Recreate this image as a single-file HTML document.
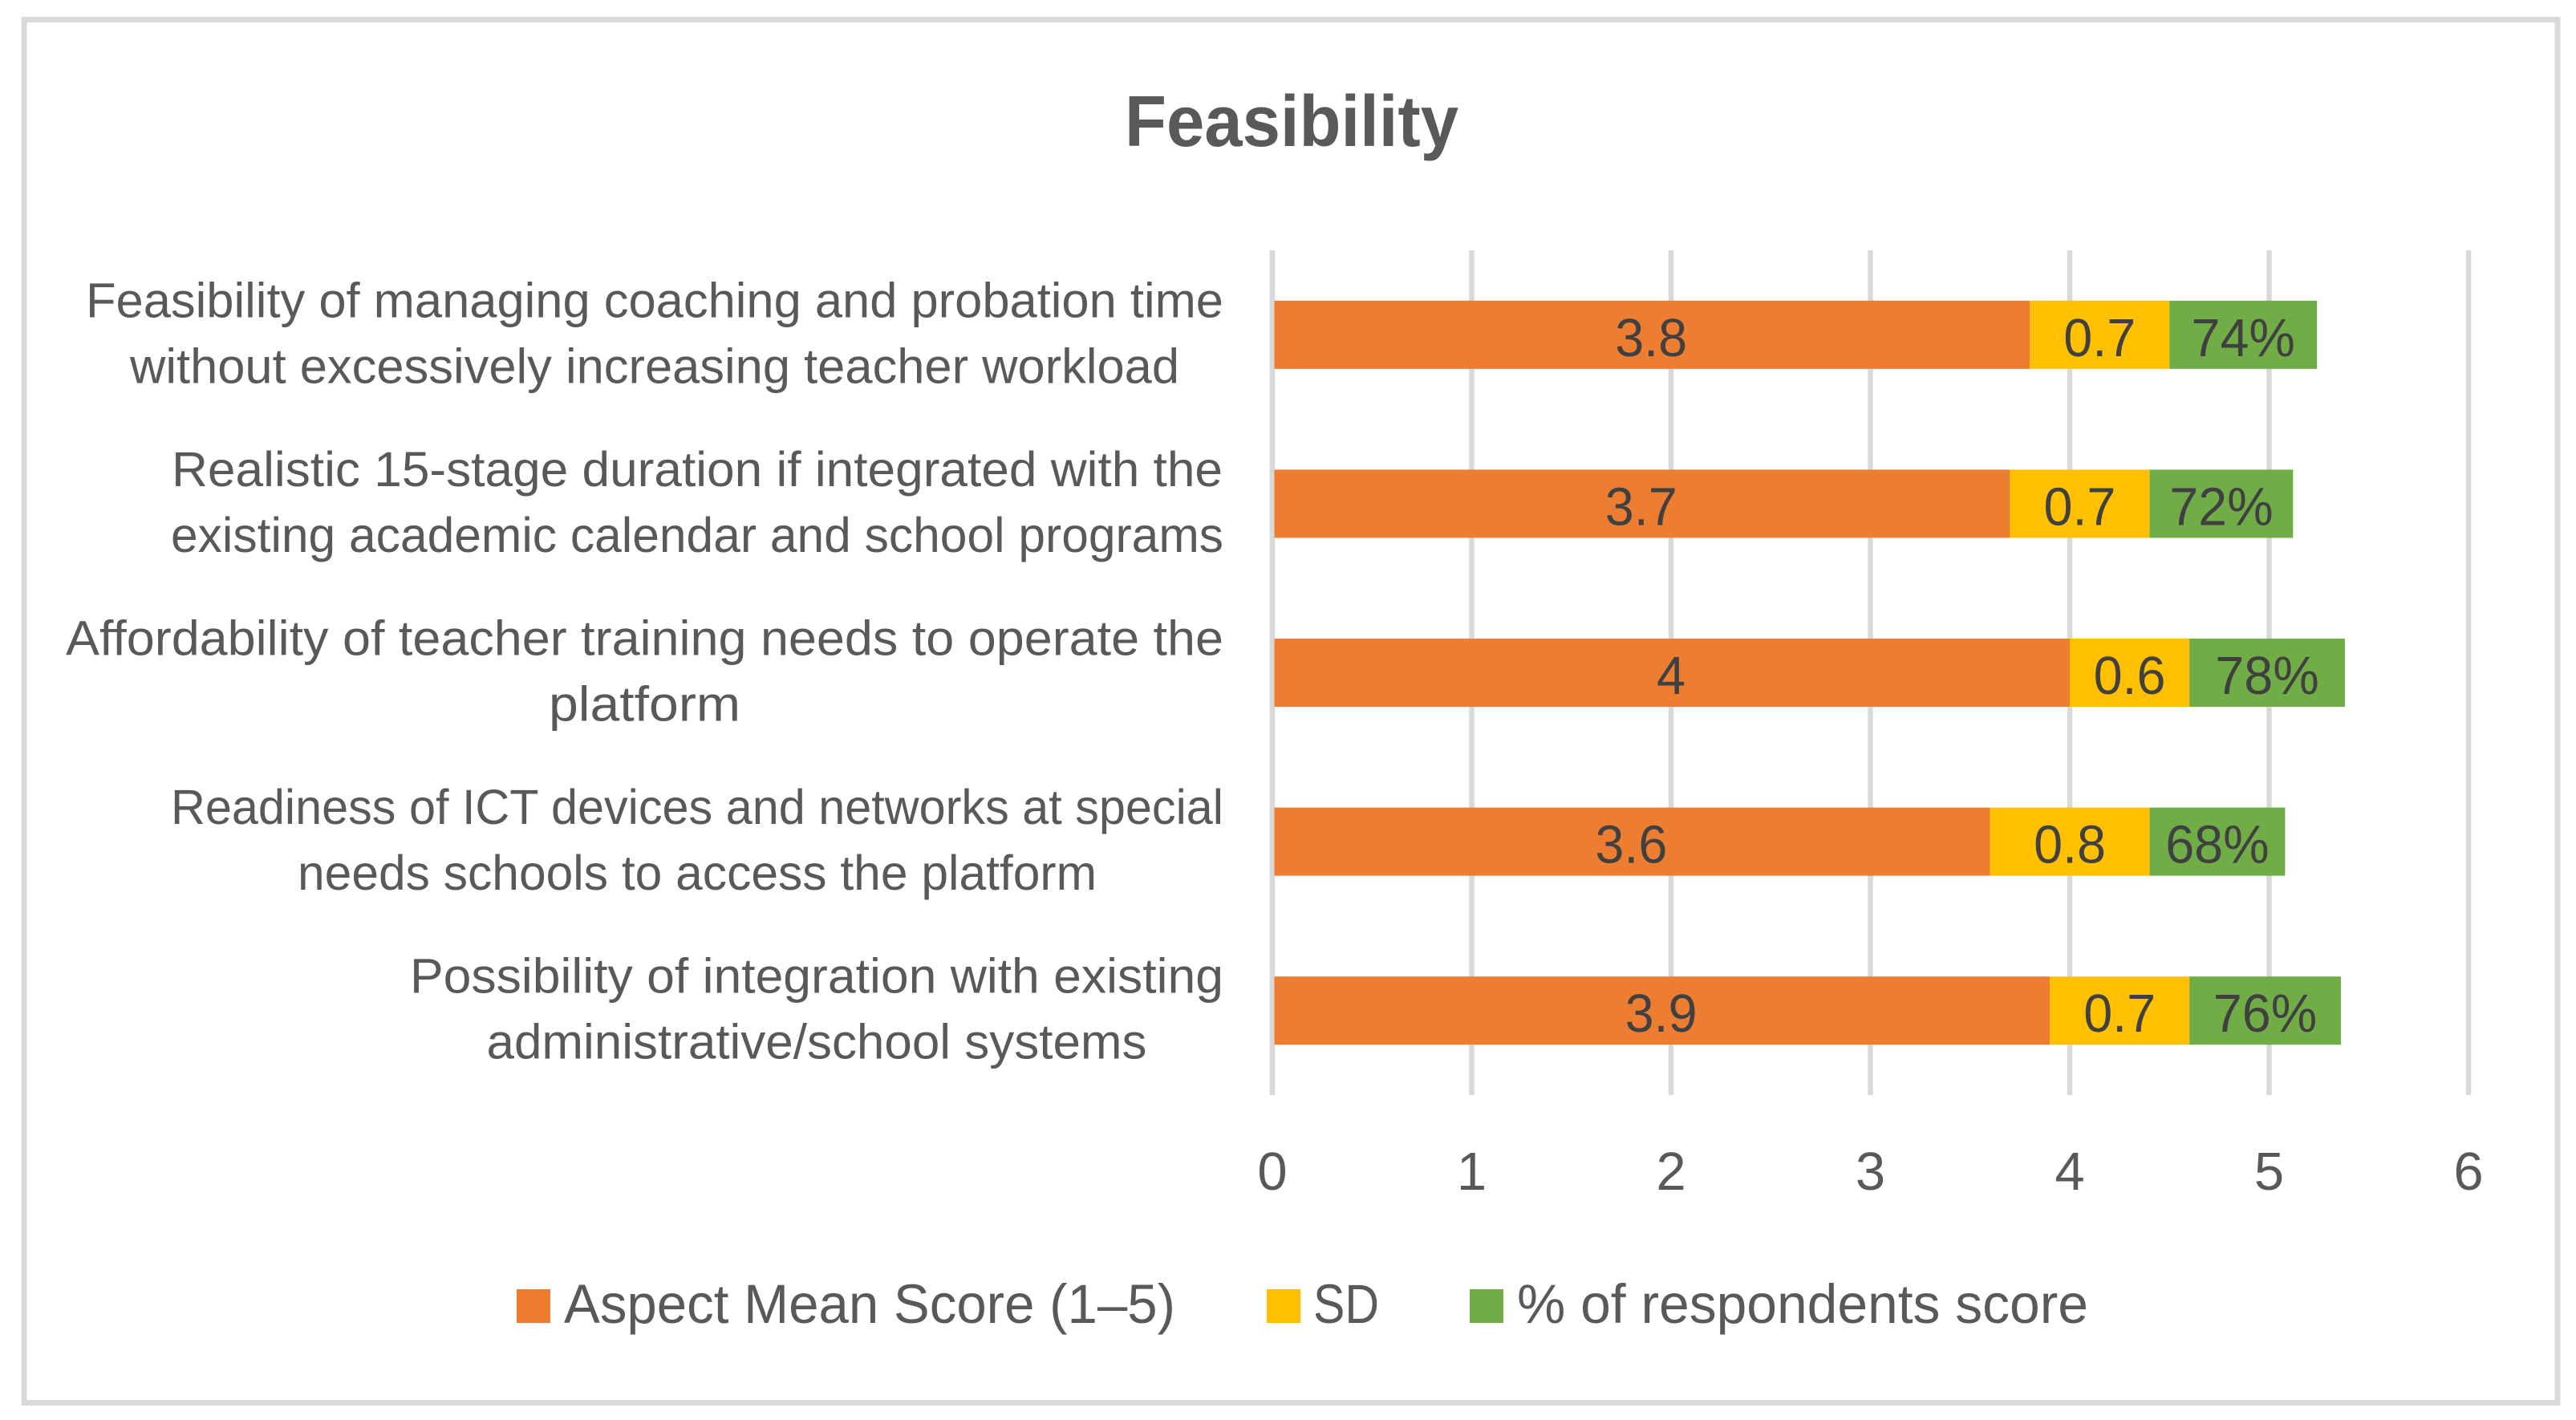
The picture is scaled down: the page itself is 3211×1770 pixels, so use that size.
<!DOCTYPE html>
<html lang="en">
<head>
<meta charset="utf-8">
<title>Feasibility</title>
<style>
  html, body { margin: 0; padding: 0; background: #ffffff; }
  svg { display: block; font-family: "Liberation Sans", sans-serif; }
</style>
</head>
<body>
<svg id="chart" xmlns="http://www.w3.org/2000/svg" width="3211" height="1770" viewBox="0 0 3211 1770">
  <rect x="30" y="24.5" width="3158" height="1724" fill="#ffffff" stroke="#d9d9d9" stroke-width="7"/>
  <text x="1402" y="182" font-size="90" font-weight="700" fill="#595959" textLength="416" lengthAdjust="spacingAndGlyphs">Feasibility</text>
  <g id="grid"></g>
  <g id="bars"></g>
  <g id="barLabels"></g>
  <g id="catLabels"></g>
  <g id="xTicks"></g>
  <g>
    <g>
      <rect x="644" y="1607" width="42" height="42" fill="#ED7D31"/>
      <text x="703" y="1649" font-size="69" fill="#595959" textLength="762" lengthAdjust="spacingAndGlyphs">Aspect Mean Score (1–5)</text>
    </g>
    <g>
      <rect x="1579" y="1607" width="42" height="42" fill="#FFC000"/>
      <text x="1637" y="1649" font-size="69" fill="#595959" textLength="82" lengthAdjust="spacingAndGlyphs">SD</text>
    </g>
    <g>
      <rect x="1832" y="1607" width="42" height="42" fill="#70AD47"/>
      <text x="1891" y="1649" font-size="69" fill="#595959" textLength="712" lengthAdjust="spacingAndGlyphs">% of respondents score</text>
    </g>
  </g>
</svg>
<script>
const categoryLines = [
  ["Feasibility of managing coaching and probation time", "without excessively increasing teacher workload"],
  ["Realistic 15-stage duration if integrated with the", "existing academic calendar and school programs"],
  ["Affordability of teacher training needs to operate the", "platform"],
  ["Readiness of ICT devices and networks at special", "needs schools to access the platform"],
  ["Possibility of integration with existing", "administrative/school systems"]
];
const meanScores = [3.8, 3.7, 4, 3.6, 3.9];
const sdValues = [0.7, 0.7, 0.6, 0.8, 0.7];
const respondentPercents = [74, 72, 78, 68, 76];
const axisTicks = [0, 1, 2, 3, 4, 5, 6];

const SVG_NS = "http://www.w3.org/2000/svg";
const X0 = 1586, X_UNIT = 248.5, PLOT_TOP = 312, PLOT_BOTTOM = 1365, BAR_H = 85, LABEL_RIGHT = 1525;
const LINE_FIT = {
  "Feasibility of managing coaching and probation time": 1418,
  "without excessively increasing teacher workload": 1308,
  "Realistic 15-stage duration if integrated with the": 1310,
  "existing academic calendar and school programs": 1312,
  "Affordability of teacher training needs to operate the": 1443,
  "platform": 239,
  "Readiness of ICT devices and networks at special": 1312,
  "needs schools to access the platform": 996,
  "Possibility of integration with existing": 1014,
  "administrative/school systems": 823
};
const bandH = (PLOT_BOTTOM - PLOT_TOP) / categoryLines.length;
function xScale(v) { return X0 + v * X_UNIT; }
function yCenter(i) { return PLOT_TOP + bandH * (i + 0.5); }

function make(tag, attrs, parent) {
  const el = document.createElementNS(SVG_NS, tag);
  for (const k in attrs) el.setAttribute(k, attrs[k]);
  parent.appendChild(el);
  return el;
}
function fit(el, width) {
  el.setAttribute("textLength", width.toFixed(1));
  el.setAttribute("lengthAdjust", "spacingAndGlyphs");
  return width;
}

const grid = document.getElementById("grid");
const bars = document.getElementById("bars");
const barLabels = document.getElementById("barLabels");
const catLabels = document.getElementById("catLabels");
const xTicks = document.getElementById("xTicks");

axisTicks.forEach(function (t) {
  const line = make("line", { x1: xScale(t), x2: xScale(t), y1: PLOT_TOP, y2: PLOT_BOTTOM, stroke: "#d9d9d9", "stroke-width": 6.5 }, grid);
  
  
  const label = make("text", { x: xScale(t), y: 1483, "font-size": 67, fill: "#595959", "text-anchor": "middle" }, xTicks);
  label.textContent = t;
  
  
});

const seriesColors = ["#ED7D31", "#FFC000", "#70AD47"];
categoryLines.forEach(function (lines, i) {
  const cy = yCenter(i);
  const values = [meanScores[i], sdValues[i], respondentPercents[i] / 100];
  const texts = [String(meanScores[i]), String(sdValues[i]), respondentPercents[i] + "%"];
  let acc = 0;
  values.forEach(function (v, s) {
    const left = s === 0 ? xScale(acc) + 2.5 : xScale(acc);
    const right = xScale(acc + v);
    const seg = make("rect", { x: left, y: cy - BAR_H / 2, width: right - left, height: BAR_H, fill: seriesColors[s] }, bars);
    
    
    const lbl = make("text", { "font-size": 67, fill: "#404040", y: cy + 26.5, x: 0 }, barLabels);
    lbl.textContent = texts[s];
    
    
    const w = fit(lbl, lbl.getComputedTextLength() * 0.965);
    lbl.setAttribute("x", ((xScale(acc) + right) / 2 - w / 2).toFixed(1));
    acc += v;
  });

  const els = lines.map(function (line, n) {
    const t = make("text", { "font-size": 61, fill: "#595959", x: 0, y: cy + (n === 0 ? -22 : 60) }, catLabels);
    t.textContent = line;
    
    
    return t;
  });
  const widths = els.map(function (t, n) {
    const target = LINE_FIT[lines[n]] || t.getComputedTextLength() * 1.02;
    return fit(t, target);
  });
  const maxW = Math.max.apply(null, widths);
  const center = LABEL_RIGHT - maxW / 2;
  els.forEach(function (t, n) { t.setAttribute("x", (center - widths[n] / 2).toFixed(1)); });
});
</script>
</body>
</html>
